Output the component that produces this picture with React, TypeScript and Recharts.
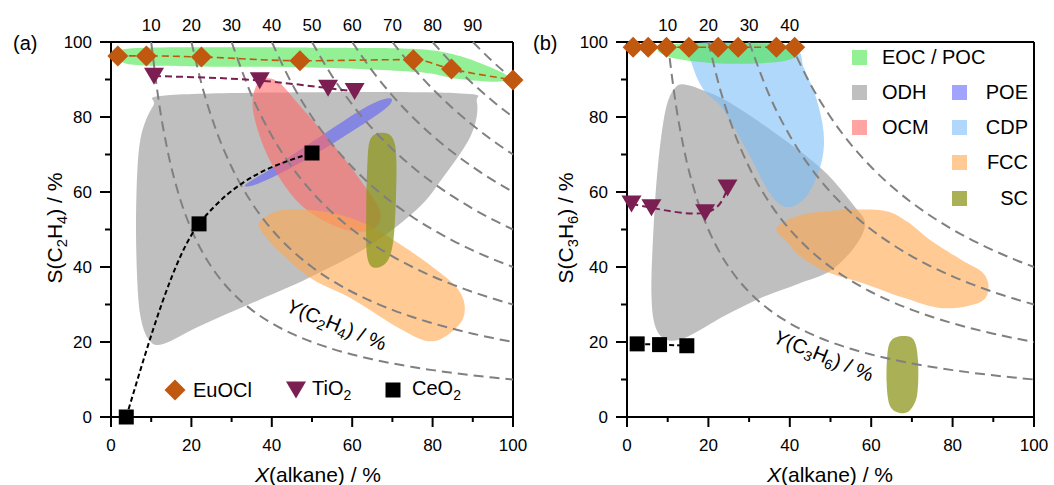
import { ComposedChart, Scatter, XAxis, YAxis } from "recharts";

const FONT = '"Liberation Sans", Arial, Helvetica, sans-serif';

// ---- catalyst data (conversion X / selectivity S, %) ----
const EUOCL_A_X = [1.7, 8.8, 22.5, 47, 75.2, 84.7, 100];
const EUOCL_A_S = [96.3, 96.3, 96, 95, 95.3, 92.8, 89.9];
const TIO2_A_X = [10.7, 37, 54, 60.6];
const TIO2_A_S = [90.9, 89.7, 87.7, 86.8];
const CEO2_A_X = [3.8, 21.9, 50];
const CEO2_A_S = [0, 51.5, 70.4];

const EUOCL_B_X = [1.5, 5.2, 9.7, 15.2, 22.4, 27.3, 36.7, 41.2];
const EUOCL_B_S = [98.6, 98.6, 98.6, 98.6, 98.6, 98.6, 98.6, 98.6];
const TIO2_B_X = [1.1, 6, 19.2, 24.7];
const TIO2_B_S = [56.8, 55.8, 54.5, 61.1];
const CEO2_B_X = [2.5, 8, 14.7];
const CEO2_B_S = [19.5, 19.3, 19];

// iso-yield levels (Y = X * S / 100)
const YIELD_A = [10, 20, 30, 40, 50, 60, 70, 80, 90];
const YIELD_B = [10, 20, 30, 40];
const ISO_X = [10, 12, 14, 17, 20, 23, 26, 30, 35, 40, 45, 50, 55, 60, 65, 70, 75, 80, 85, 90, 95, 100];

// process regions, outlines in (X, S)
const EOC_A = [[2, 96.2], [4, 98.2], [20, 98.6], [50, 98.5], [75, 98.2], [86, 96.5], [95, 93], [99, 90.5], [96, 89.4], [86, 90.2], [76, 92], [50, 93.2], [22, 93.5], [5, 94]];
const ODH_A = [[10.5, 83], [14, 85.8], [50, 86.6], [87, 86.3], [91, 84], [89.5, 75], [82, 63], [76, 55.3], [64, 45.5], [49, 37], [37, 31.3], [22, 24.2], [13, 19.5], [9.5, 20.5], [7.3, 27], [6.4, 40], [6.3, 58], [7.3, 74]];
const POE_A = [[33.5, 62], [41, 67], [53, 75.5], [64, 83], [69.5, 85], [68, 82], [56, 73.5], [44, 66], [36, 62]];
const OCM_A = [[38.5, 90.3], [42, 89], [47, 83], [55, 73], [62.5, 62.5], [67, 54.5], [65, 50], [58, 50], [49, 55], [43, 62], [38, 72], [35.3, 82], [36, 88]];
const FCC_A = [[37, 52], [41, 54.8], [47, 55.4], [56, 54.2], [64, 51.2], [72, 46], [80, 40], [86, 34.5], [88, 29.5], [86.5, 24.5], [80, 20.2], [72, 23.5], [60, 31.5], [50, 36.8], [42, 44], [37.5, 49.5]];
const SC_A = [[67, 75.8], [70, 74.5], [71, 68], [70.5, 50], [69, 42], [65.6, 39.8], [63.7, 43], [63.5, 55], [63.8, 68], [64.5, 74]];

const EOC_B = [[7.5, 98], [12, 99.5], [25, 99.7], [38, 99.5], [42, 97], [39, 95], [30, 94.2], [20, 94.5], [11, 95.8]];
const ODH_B = [[12, 88], [15, 88.5], [19, 87], [25, 84], [36, 76], [48, 66], [56, 56], [58.5, 51.5], [56, 45.5], [50, 39], [42, 35.5], [33.4, 32], [24, 27], [15, 21.5], [10, 20.5], [7, 24], [6, 33], [6.5, 50], [7.6, 67], [9.5, 82]];
const CDP_B = [[15.5, 99.3], [28, 99.7], [41, 98.5], [43.5, 93], [46.5, 85], [48.3, 76], [47.8, 68], [44.5, 59.5], [40, 56], [35.5, 59], [29.3, 71.4], [23.6, 82.1], [18.7, 87.5], [16, 94]];
const FCC_B = [[36.7, 50], [40, 52.8], [45.7, 54.5], [55, 55.3], [63.7, 54.9], [69, 52], [74.4, 47.3], [82, 42], [87.5, 38.4], [88.8, 34], [86.5, 30.5], [77.6, 29], [68, 31.8], [58, 35.7], [49.8, 38.4], [43, 42.5], [39.5, 46.5]];
const SC_B = [[65, 20.5], [67.8, 21.6], [70.5, 20.5], [71.5, 15], [71.3, 6], [69.5, 1.8], [67, 1.1], [64.6, 3], [63.8, 9], [64, 17]];

const TICKS = [0, 10, 20, 30, 40, 50, 60, 70, 80, 90, 100];

const C_EUOCL = "#c0580f";
const C_TIO2 = "#7b1f52";
const C_CEO2 = "#000000";
const C_ISO = "#808080";

const REGION = {
  EOC: { color: "#4de64d", op: 0.6 },
  ODH: { color: "#808080", op: 0.5 },
  POE: { color: "#5555ff", op: 0.55 },
  OCM: { color: "#ff6666", op: 0.6 },
  CDP: { color: "#7bbef7", op: 0.6 },
  FCC: { color: "#ffa64d", op: 0.6 },
  SC: { color: "#8c961e", op: 0.75 },
};

type Pt = { x: number; y: number };
const pts = (xs: number[], ys: number[]): Pt[] => xs.map((x, i) => ({ x, y: ys[i] }));
const poly = (p: number[][]): Pt[] => p.map(([x, y]) => ({ x, y }));
const isoCurve = (yv: number): Pt[] =>
  [yv, ...ISO_X.filter((x) => x > yv)].map((x) => ({ x, y: (100 * yv) / x }));

// closed catmull-rom through the projected outline points
function closedPath(p: { x: number; y: number }[]) {
  const n = p.length;
  if (!n) return "";
  let d = `M${p[0].x},${p[0].y}`;
  for (let i = 0; i < n; i++) {
    const p0 = p[(i - 1 + n) % n];
    const p1 = p[i];
    const p2 = p[(i + 1) % n];
    const p3 = p[(i + 2) % n];
    const c1x = p1.x + (p2.x - p0.x) / 6;
    const c1y = p1.y + (p2.y - p0.y) / 6;
    const c2x = p2.x - (p3.x - p1.x) / 6;
    const c2y = p2.y - (p3.y - p1.y) / 6;
    d += ` C${c1x},${c1y} ${c2x},${c2y} ${p2.x},${p2.y}`;
  }
  return d + "Z";
}

const blobLine = (key: keyof typeof REGION) => (props: any) => (
  <path
    d={closedPath(props.points || [])}
    fill={REGION[key].color}
    fillOpacity={REGION[key].op}
    stroke="none"
  />
);

const noDot = () => null;

function Diamond(p: any) {
  const { cx, cy } = p;
  if (cx == null || cy == null) return null;
  const r = 10.5;
  return <path d={`M${cx},${cy - r}L${cx + r},${cy}L${cx},${cy + r}L${cx - r},${cy}Z`} fill={C_EUOCL} />;
}

function TriDown(p: any) {
  const { cx, cy } = p;
  if (cx == null || cy == null) return null;
  return <path d={`M${cx - 10},${cy - 8.5}L${cx + 10},${cy - 8.5}L${cx},${cy + 8.5}Z`} fill={C_TIO2} />;
}

function Square(p: any) {
  const { cx, cy } = p;
  if (cx == null || cy == null) return null;
  return <rect x={cx - 7.5} y={cy - 7.5} width={15} height={15} fill={C_CEO2} />;
}

function BottomTick(props: any) {
  const { x, y, payload } = props;
  const v = payload.value;
  const major = v % 20 === 0;
  return (
    <g>
      <line x1={x} x2={x} y1={y - 1} y2={y + (major ? 10 : 5)} stroke="#000" strokeWidth={2} />
      {major && (
        <text x={x} y={y + 34} textAnchor="middle" fontSize={17} fontFamily={FONT} fill="#000">
          {v}
        </text>
      )}
    </g>
  );
}

function LeftTick(props: any) {
  const { x, y, payload } = props;
  const v = payload.value;
  const major = v % 20 === 0;
  return (
    <g>
      <line x1={x} x2={x - (major ? 11 : 6)} y1={y} y2={y} stroke="#000" strokeWidth={2} />
      {major && (
        <text x={x - 19} y={y + 6} textAnchor="end" fontSize={17} fontFamily={FONT} fill="#000">
          {v}
        </text>
      )}
    </g>
  );
}

function TopTick(props: any) {
  const { x, y, payload } = props;
  return (
    <text x={x} y={y - 11} textAnchor="middle" fontSize={17} fontFamily={FONT} fill="#000">
      {payload.value}
    </text>
  );
}

function Sub({ children }: { children: any }) {
  return <span style={{ fontSize: "0.7em", verticalAlign: "-0.3em" }}>{children}</span>;
}

function Label({ x, y, rotate = 0, size = 20, anchor = "center", children }: any) {
  const tx = anchor === "center" ? "-50%" : anchor === "end" ? "-100%" : "0";
  return (
    <div
      style={{
        position: "absolute",
        left: x,
        top: y,
        transform: `translate(${tx},-50%) rotate(${rotate}deg)`,
        fontSize: size,
        lineHeight: 1,
        whiteSpace: "nowrap",
        fontFamily: FONT,
        color: "#000",
      }}
    >
      {children}
    </div>
  );
}

function Swatch({ x, y, k }: { x: number; y: number; k: keyof typeof REGION }) {
  return (
    <div
      style={{
        position: "absolute",
        left: x - 7.5,
        top: y - 7.5,
        width: 15,
        height: 15,
        background: REGION[k].color,
        opacity: REGION[k].op,
      }}
    />
  );
}

function MarkIcon({ x, y, shape }: { x: number; y: number; shape: any }) {
  const S = shape;
  return (
    <svg style={{ position: "absolute", left: x - 12, top: y - 12 }} width={24} height={24}>
      <S cx={12} cy={12} />
    </svg>
  );
}

type Series = { data: Pt[]; shape: any; color: string; dash: string; width: number; curve: string };

function Panel({
  width,
  margin,
  topTicks,
  yields,
  blobs,
  series,
}: {
  width: number;
  margin: { top: number; right: number; bottom: number; left: number };
  topTicks: number[];
  yields: number[];
  blobs: { data: number[][]; key: keyof typeof REGION }[];
  series: Series[];
}) {
  return (
    <ComposedChart width={width} height={485} margin={margin}>
      <XAxis
        dataKey="x"
        type="number"
        domain={[0, 100]}
        ticks={TICKS}
        interval={0}
        height={1}
        tickSize={0}
        tickMargin={0}
        tickLine={false}
        tick={<BottomTick />}
        axisLine={{ stroke: "#000", strokeWidth: 2 }}
      />
      <XAxis
        xAxisId="top"
        orientation="top"
        dataKey="x"
        type="number"
        domain={[0, 100]}
        allowDataOverflow
        ticks={topTicks}
        interval={0}
        height={1}
        tickSize={0}
        tickMargin={0}
        tickLine={false}
        tick={<TopTick />}
        axisLine={{ stroke: "#000", strokeWidth: 2 }}
      />
      <YAxis
        dataKey="y"
        type="number"
        domain={[0, 100]}
        ticks={TICKS}
        interval={0}
        width={1}
        tickSize={0}
        tickMargin={0}
        tickLine={false}
        tick={<LeftTick />}
        axisLine={{ stroke: "#000", strokeWidth: 2 }}
      />
      <YAxis
        yAxisId="right"
        orientation="right"
        dataKey="y"
        type="number"
        domain={[0, 100]}
        allowDataOverflow
        width={1}
        tick={false}
        tickLine={false}
        axisLine={{ stroke: "#000", strokeWidth: 2 }}
      />
      {blobs.map((b, i) => (
        <Scatter
          key={`blob${i}`}
          data={poly(b.data)}
          shape={noDot}
          line={blobLine(b.key)}
          legendType="none"
          isAnimationActive={false}
        />
      ))}
      {yields.map((yv) => (
        <Scatter
          key={`iso${yv}`}
          data={isoCurve(yv)}
          shape={noDot}
          line={{ stroke: C_ISO, strokeWidth: 2, strokeDasharray: "10 6" }}
          lineJointType="monotoneX"
          legendType="none"
          isAnimationActive={false}
        />
      ))}
      {series.map((s, i) => (
        <Scatter
          key={`s${i}`}
          data={s.data}
          shape={s.shape}
          fill={s.color}
          line={{ stroke: s.color, strokeWidth: s.width, strokeDasharray: s.dash }}
          lineJointType={s.curve as any}
          legendType="none"
          isAnimationActive={false}
        />
      ))}
    </ComposedChart>
  );
}

export default function App() {
  const seriesA: Series[] = [
    { data: pts(CEO2_A_X, CEO2_A_S), shape: Square, color: C_CEO2, dash: "5 3", width: 2, curve: "monotoneX" },
    { data: pts(TIO2_A_X, TIO2_A_S), shape: TriDown, color: C_TIO2, dash: "7 4", width: 2, curve: "monotoneX" },
    { data: pts(EUOCL_A_X, EUOCL_A_S), shape: Diamond, color: C_EUOCL, dash: "7 4", width: 1.6, curve: "monotoneX" },
  ];
  const seriesB: Series[] = [
    { data: pts(CEO2_B_X, CEO2_B_S), shape: Square, color: C_CEO2, dash: "5 3", width: 2, curve: "linear" },
    { data: pts(TIO2_B_X, TIO2_B_S), shape: TriDown, color: C_TIO2, dash: "7 4", width: 2, curve: "natural" },
    { data: pts(EUOCL_B_X, EUOCL_B_S), shape: Diamond, color: C_EUOCL, dash: "7 4", width: 1.6, curve: "linear" },
  ];

  return (
    <div style={{ position: "absolute", left: 0, top: 0, width: 1054, height: 485, background: "#fff", fontFamily: FONT }}>
      <div style={{ position: "absolute", left: 0, top: 0, width: 530, height: 485 }}>
        <Panel
          width={530}
          margin={{ top: 41, right: 16, bottom: 67, left: 110 }}
          topTicks={YIELD_A}
          yields={YIELD_A}
          blobs={[
            { data: ODH_A, key: "ODH" },
            { data: POE_A, key: "POE" },
            { data: OCM_A, key: "OCM" },
            { data: FCC_A, key: "FCC" },
            { data: SC_A, key: "SC" },
            { data: EOC_A, key: "EOC" },
          ]}
          series={seriesA}
        />
        <Label x={13} y={43} anchor="start">(a)</Label>
        <Label x={57} y={228} rotate={-90} size={21}>
          S(C<Sub>2</Sub>H<Sub>4</Sub>) / %
        </Label>
        <Label x={318} y={474} size={21}>
          <i>X</i>(alkane) / %
        </Label>
        <Label x={336} y={326} rotate={22} size={20}>
          <i>Y</i>(C<Sub>2</Sub>H<Sub>4</Sub>) / %
        </Label>
        <MarkIcon x={175} y={390} shape={Diamond} />
        <Label x={193} y={390} anchor="start">EuOCl</Label>
        <MarkIcon x={296} y={390} shape={TriDown} />
        <Label x={312} y={390} anchor="start">
          TiO<Sub>2</Sub>
        </Label>
        <MarkIcon x={393} y={390} shape={Square} />
        <Label x={412} y={390} anchor="start">
          CeO<Sub>2</Sub>
        </Label>
      </div>
      <div style={{ position: "absolute", left: 530, top: 0, width: 524, height: 485 }}>
        <Panel
          width={524}
          margin={{ top: 41, right: 19, bottom: 67, left: 96 }}
          topTicks={YIELD_B}
          yields={YIELD_B}
          blobs={[
            { data: ODH_B, key: "ODH" },
            { data: CDP_B, key: "CDP" },
            { data: FCC_B, key: "FCC" },
            { data: SC_B, key: "SC" },
            { data: EOC_B, key: "EOC" },
          ]}
          series={seriesB}
        />
        <Label x={3} y={43} anchor="start">(b)</Label>
        <Label x={38} y={228} rotate={-90} size={21}>
          S(C<Sub>3</Sub>H<Sub>6</Sub>) / %
        </Label>
        <Label x={300} y={474} size={21}>
          <i>X</i>(alkane) / %
        </Label>
        <Label x={293} y={357} rotate={22} size={20}>
          <i>Y</i>(C<Sub>3</Sub>H<Sub>6</Sub>) / %
        </Label>
        <Swatch x={329} y={57} k="EOC" />
        <Label x={352} y={57} anchor="start">EOC / POC</Label>
        <Swatch x={329} y={92} k="ODH" />
        <Label x={352} y={92} anchor="start">ODH</Label>
        <Swatch x={429} y={92} k="POE" />
        <Label x={498} y={92} anchor="end">POE</Label>
        <Swatch x={329} y={127} k="OCM" />
        <Label x={352} y={127} anchor="start">OCM</Label>
        <Swatch x={429} y={127} k="CDP" />
        <Label x={498} y={127} anchor="end">CDP</Label>
        <Swatch x={429} y={162} k="FCC" />
        <Label x={498} y={162} anchor="end">FCC</Label>
        <Swatch x={429} y={198} k="SC" />
        <Label x={498} y={198} anchor="end">SC</Label>
      </div>
    </div>
  );
}
